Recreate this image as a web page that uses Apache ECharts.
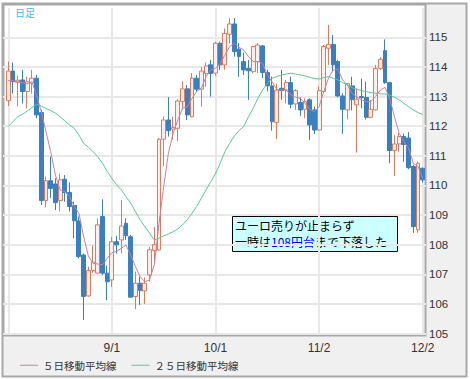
<!DOCTYPE html>
<html><head><meta charset="utf-8">
<script src="https://cdn.jsdelivr.net/npm/echarts@6/dist/echarts.min.js"></script>
<style>html,body{margin:0;padding:0;background:#fff;}#c{width:470px;height:379px;}</style>
</head><body><div id="c"></div><script>
// ---- data ----
const dates = ['7/31',
 '8/3','8/4','8/5','8/6','8/7','8/10','8/11','8/12','8/13','8/14','8/17','8/18','8/19','8/20','8/21','8/24','8/25','8/26','8/27','8/28','8/31',
 '9/1','9/2','9/3','9/4','9/7','9/8','9/9','9/10','9/11','9/14','9/15','9/16','9/17','9/18','9/21','9/22','9/23','9/24','9/25','9/28','9/29','9/30',
 '10/1','10/2','10/5','10/6','10/7','10/8','10/9','10/12','10/13','10/14','10/15','10/16','10/19','10/20','10/21','10/22','10/23','10/26','10/27','10/28','10/29','10/30',
 '11/2','11/3','11/4','11/5','11/6','11/9','11/10','11/11','11/12','11/13','11/16','11/17','11/18','11/19','11/20','11/23','11/24','11/25','11/26','11/27','11/30',
 '12/1','12/2'];
const opens = [112.86,113.86,113.48,113.56,113.17,113.45,113.62,112.46,109.49,110.16,110.05,109.49,110.21,109.76,109.32,108.80,107.65,106.27,107.13,107.04,108.95,107.04,
 106.81,108.10,108.16,108.72,108.27,106.25,106.70,106.44,106.98,107.80,107.82,111.56,112.21,111.90,111.93,112.83,113.26,112.32,113.62,113.25,113.78,114.07,
 113.79,114.80,114.07,115.10,115.45,114.60,114.18,113.95,113.84,114.18,114.71,113.81,113.36,112.12,113.28,113.22,113.47,112.75,112.80,112.57,112.89,112.55,
 111.87,113.17,114.63,114.76,114.18,113.02,112.55,113.36,112.72,113.00,112.97,112.30,112.55,113.95,114.55,113.47,111.18,111.40,111.65,111.60,110.64,108.50,110.58];
const closes = [113.86,113.50,113.55,113.17,113.50,113.62,112.38,109.49,110.16,109.90,109.42,110.19,109.76,109.29,108.81,107.60,106.25,107.13,107.41,108.67,107.04,106.75,
 108.10,108.00,108.63,108.30,106.23,106.70,106.45,106.70,107.83,108.00,111.56,112.21,111.85,111.96,112.85,113.26,112.38,113.62,113.25,113.86,114.03,113.78,
 114.80,114.07,115.13,115.45,114.52,114.35,113.90,113.87,114.69,114.74,113.81,113.36,112.15,113.22,113.20,113.47,112.74,113.20,112.55,112.83,112.04,111.87,
 113.20,114.69,114.76,114.07,113.02,112.57,113.43,112.89,112.91,112.96,112.30,112.57,113.95,114.26,113.47,111.18,111.40,111.65,111.38,110.60,108.61,110.75,110.19];
const lows = [112.68,113.10,112.68,112.77,112.60,113.10,112.27,109.34,109.26,109.58,109.17,109.12,109.45,109.12,108.22,107.54,105.46,106.24,107.05,107.03,106.98,106.13,
 106.58,107.70,107.71,108.16,106.23,105.82,105.97,106.00,106.75,107.40,107.80,110.64,111.65,111.54,111.50,112.55,112.21,112.30,113.17,112.66,113.33,113.00,
 113.70,113.90,113.90,114.80,114.35,113.67,113.73,112.89,113.79,113.79,113.62,113.17,111.85,111.56,112.89,112.77,112.60,112.55,112.35,112.27,111.54,111.74,
 111.85,113.11,114.07,113.84,112.98,111.74,112.23,112.53,111.11,112.60,112.23,112.27,112.53,113.90,113.43,110.75,110.32,111.14,110.80,110.55,108.40,108.40,110.10];
const highs = [114.18,114.15,113.70,113.90,113.67,113.90,113.73,112.55,110.30,110.97,110.24,110.39,110.35,110.10,109.45,108.95,107.71,107.26,107.97,108.89,109.53,107.30,
 108.27,108.30,109.51,108.89,108.33,107.09,106.92,106.90,107.92,108.60,111.60,112.32,112.98,112.32,112.91,113.51,113.39,113.79,113.73,114.00,114.15,114.24,
 114.85,114.85,115.30,115.64,115.64,114.80,114.48,114.24,114.71,114.80,114.74,113.90,113.67,113.43,113.90,113.56,113.67,113.25,112.98,112.94,112.94,112.66,
 113.34,114.74,115.42,115.08,114.24,113.11,113.47,113.67,113.28,113.60,113.50,112.89,114.07,114.33,114.93,113.50,111.70,111.78,111.75,111.80,110.70,110.80,110.60];
const ma5 = [113.54,113.53,113.50,113.47,113.43,113.50,113.05,112.49,111.82,111.14,110.35,109.85,109.79,109.62,109.29,109.06,108.27,107.62,107.37,107.35,107.32,107.54,
 107.73,107.77,107.88,107.99,107.65,107.26,106.92,106.75,106.81,107.32,108.72,109.96,111.09,111.76,112.21,112.60,112.66,112.94,113.17,113.28,113.67,113.90,
 113.95,114.12,114.40,114.69,114.80,114.66,114.57,114.35,114.18,114.18,114.12,113.73,113.50,113.25,113.22,113.22,113.05,112.98,112.94,112.77,112.57,112.49,
 112.66,113.17,113.62,113.90,113.92,113.56,113.39,113.11,112.98,112.89,112.83,112.83,113.00,113.22,113.31,112.94,112.32,111.76,111.48,111.25,110.75,110.64,110.24];
const ma25 = [111.99,112.15,112.32,112.40,112.51,112.63,112.74,112.68,112.60,112.53,112.44,112.32,112.18,112.04,111.93,111.70,111.42,111.29,111.14,110.97,110.75,110.47,
 110.24,110.02,109.85,109.62,109.40,109.12,108.84,108.61,108.39,108.16,108.22,108.30,108.36,108.44,108.53,108.67,108.84,109.06,109.29,109.57,109.85,110.13,
 110.40,110.75,111.14,111.42,111.67,111.85,111.99,112.32,112.60,112.94,113.22,113.45,113.62,113.67,113.73,113.76,113.79,113.76,113.73,113.70,113.65,113.61,
 113.59,113.64,113.67,113.62,113.56,113.47,113.39,113.30,113.25,113.20,113.17,113.13,113.11,113.09,113.09,113.05,112.98,112.89,112.77,112.66,112.55,112.46,112.40];
const tickLabels = ['9/1','10/1','11/2','12/2'];
const gridDates = ['7/31','9/1','10/1','11/2','12/2'];
const yMin = 105, yMax = 116, yStep = 1;
const seriesNames = ['５日移動平均線','２５日移動平均線'];
const frameLabel = '日足';
const noteLine1 = 'ユーロ売りが止まらず';
const notePre = '一時は', noteHi = '108円台', notePost = 'まで下落した';

// ---- chart ----
const candles = dates.map((d, i) => [opens[i], closes[i], lows[i], highs[i]]);
const chart = echarts.init(document.getElementById('c'), null, {renderer: 'svg'});
const gridColor = '#e8e8e8';
const lblFont = "'Liberation Sans', Arial, sans-serif";
const jpFamily = "'Noto Sans CJK JP', sans-serif";
const noteFont = '12px ' + jpFamily;
const mctx = document.createElement('canvas').getContext('2d');
mctx.font = noteFont;
const wPre = mctx.measureText(notePre).width;
const wHi = mctx.measureText(noteHi).width;

chart.setOption({
  animation: false,
  backgroundColor: '#ffffff',
  grid: [
    {left: 8.3, width: 414.4, top: 7.67, height: 325.9},
    {left: 3, width: 423, top: 7.67, height: 325.9}
  ],
  xAxis: [
    {type: 'category', gridIndex: 0, data: dates, boundaryGap: false,
     axisLine: {show: false}, axisTick: {show: false},
     axisLabel: {interval: (i, v) => tickLabels.includes(v), color: '#333', fontSize: 12, fontFamily: lblFont, margin: 8},
     splitLine: {show: true, interval: (i, v) => gridDates.includes(v), lineStyle: {color: gridColor, width: 2}}},
    {type: 'value', gridIndex: 1, show: false, min: 0, max: 1}
  ],
  yAxis: [
    {type: 'value', gridIndex: 0, min: yMin, max: yMax, interval: yStep, show: false, splitLine: {show: false}},
    {type: 'value', gridIndex: 1, min: yMin, max: yMax, interval: yStep, position: 'right',
     axisLine: {show: false}, axisTick: {show: false},
     axisLabel: {color: '#333', fontSize: 11.5, fontFamily: lblFont, margin: 3, showMaxLabel: false},
     splitLine: {show: true, showMaxLine: false, lineStyle: {color: gridColor, width: 2}}}
  ],
  legend: {
    left: 15, top: 355, itemWidth: 18, itemHeight: 1, itemGap: 15, icon: 'rect',
    data: seriesNames,
    textStyle: {color: '#333', fontSize: 10.5, fontFamily: jpFamily}
  },
  graphic: [
    {type: 'rect', z: -100, silent: true, shape: {x: 2.5, y: 3.5, width: 464, height: 373},
     style: {fill: '#f0f0f0', stroke: '#a8a8a8', lineWidth: 2}},
    {type: 'rect', z: -99, silent: true, shape: {x: 3.5, y: 4.5, width: 422, height: 331},
     style: {fill: '#ffffff', stroke: '#a8a8a8', lineWidth: 2}},
    {type: 'text', z: 50, left: 15, top: 7, silent: true,
     style: {text: frameLabel, fill: '#44bbee', font: '10px ' + jpFamily}},
    {type: 'group', left: 232, top: 216, z: 100, silent: true, children: [
      {type: 'rect', shape: {x: 0.5, y: 0.5, width: 165, height: 35}, style: {fill: '#ccffff', stroke: '#000', lineWidth: 1}},
      {type: 'text', x: 3, y: 3, style: {text: noteLine1, fill: '#000', font: noteFont}},
      {type: 'text', x: 3, y: 19, style: {text: notePre, fill: '#000', font: noteFont}},
      {type: 'text', x: 3 + wPre, y: 19, style: {text: noteHi, fill: '#0000ff', font: noteFont}},
      {type: 'text', x: 3 + wPre + wHi, y: 19, style: {text: notePost, fill: '#000', font: noteFont}}
    ]}
  ],
  series: [
    {type: 'candlestick', name: 'candles', xAxisIndex: 0, yAxisIndex: 0, data: candles, barWidth: 4.4, clip: false,
     itemStyle: {color: '#fdeee8', color0: '#3a7fc0', borderColor: '#e07a5f', borderColor0: '#3a7fc0', borderWidth: 1}},
    {type: 'line', name: seriesNames[0], xAxisIndex: 0, yAxisIndex: 0, data: ma5, symbol: 'none',
     lineStyle: {color: '#cc7fa0', width: 1}, itemStyle: {color: '#cc7fa0'}},
    {type: 'line', name: seriesNames[1], xAxisIndex: 0, yAxisIndex: 0, data: ma25, symbol: 'none',
     lineStyle: {color: '#55cc90', width: 1}, itemStyle: {color: '#55cc90'}}
  ]
});
</script></body></html>
